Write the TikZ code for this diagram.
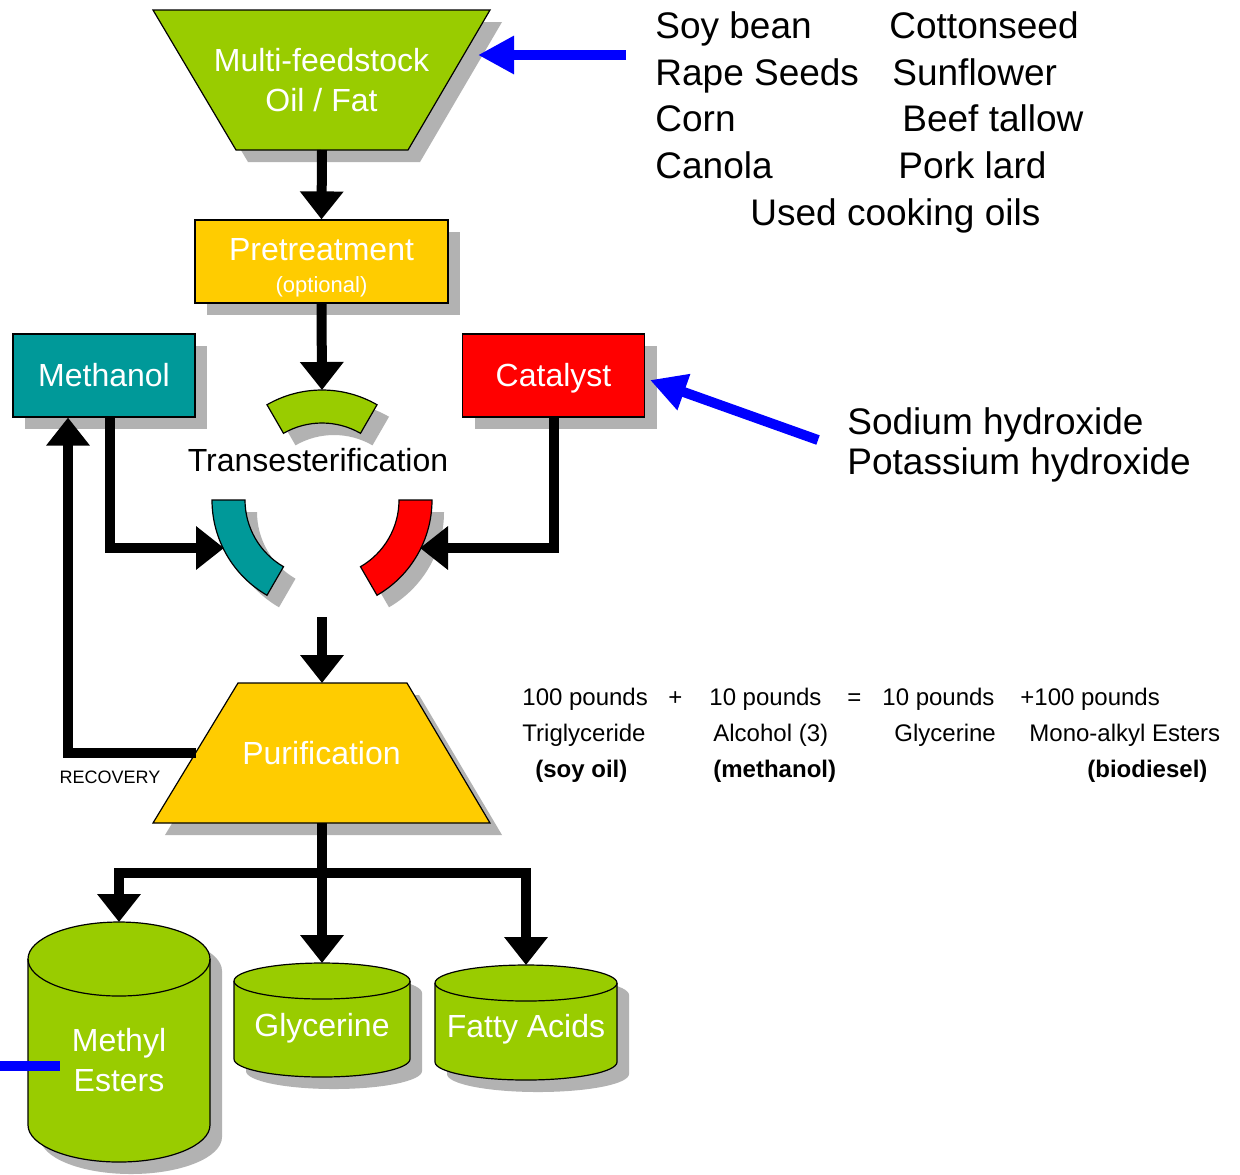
\documentclass[tikz,border=0pt]{standalone}
\usepackage{fontspec}
\setmainfont{Liberation Sans}
\usepackage{tikz}
\usetikzlibrary{arrows.meta,shadows}
\definecolor{feedgreen}{HTML}{99CC00}
\definecolor{procyellow}{HTML}{FFCC00}
\definecolor{methteal}{HTML}{009999}
\definecolor{catred}{HTML}{FF0000}
\definecolor{pointblue}{HTML}{0000FF}
\newcommand{\flowarrow}{-{Triangle[width=21pt,length=14pt]}}
\newcommand{\bluearrow}{-{Triangle[width=18pt,length=18pt]}}
\newcommand{\boxfont}{\fontsize{16}{20}\selectfont}
\newcommand{\listfont}{\fontsize{18.5}{22}\selectfont}
\newcommand{\eqfont}{\fontsize{12}{14}\selectfont}
\tikzset{
  shadowed/.style={drop shadow={shadow xshift=6pt,shadow yshift=-6pt,fill=black!30,opacity=1}},
  box/.style={shadowed,draw=black,line width=.6pt,inner sep=0pt,minimum width=91pt,minimum height=41.5pt,text=white,font=\boxfont,align=center},
  hopper/.style={shadowed,draw=black,line width=.6pt},
  hoppertext/.style={text=white,font=\boxfont,align=center},
  pipe/.style={line width=5pt},
  bluepipe/.style={line width=5pt,draw=pointblue},
  listtext/.style={anchor=base west,font=\listfont,inner sep=0pt},
  eqtext/.style={anchor=base west,font=\eqfont,inner sep=0pt}
}
\begin{document}
\begin{tikzpicture}[x=0.5pt,y=-0.5pt]
  \fill[white] (0,0) rectangle (1240,1174);
  \useasboundingbox (0,0) rectangle (1240,1174);

  % process blocks
  \path[hopper,fill=feedgreen] (153,10) -- (490,10) -- (408,150) -- (236,150) -- cycle;
  \node[hoppertext] (feed) at (321.5,80) {Multi-feedstock\\Oil / Fat};
  \coordinate (feed-bot) at (322,150);
  \node[box,fill=procyellow,minimum width=126.5pt] (pre) at (321.5,261.5)
    {\rule{0pt}{17pt}Pretreatment\\[-4pt]{\fontsize{11}{13}\selectfont (optional)}};
  \node[box,fill=methteal] (meth) at (104,375.5) {Methanol};
  \node[box,fill=catred,text depth=1pt] (cat) at (553.5,375.5) {Catalyst};
  \path[hopper,fill=procyellow] (238,683) -- (407,683) -- (490,823) -- (153,823) -- cycle;
  \node[hoppertext] (pur) at (321.5,753) {Purification};
  \coordinate (pur-top) at (322,683);
  \coordinate (pur-bot) at (322,823);
  \coordinate (pur-left) at (196,753);

  % transesterification ring
  \coordinate (ring) at (322,500);
  \foreach \col/\a/\b in {feedgreen/60/120, methteal/180/240, catred/300/360}
    \path[shadowed,fill=\col,draw=black,line width=.6pt]
      ([shift={(\a:55pt)}]ring) arc[start angle=\a,end angle=\b,radius=55pt]
      -- ([shift={(\b:38.5pt)}]ring) arc[start angle=\b,end angle=\a,radius=38.5pt] -- cycle;
  \node[font=\boxfont] (trans) at (318,460) {Transesterification};
  \coordinate (greentop) at (322,390);
  \coordinate (tealin) at (224,548);
  \coordinate (redin) at (420,548);
  \coordinate (ringout) at (322,617);

  % storage tanks
  \foreach \nm/\cx/\yt/\yb/\rx/\ry/\ty/\txt in
    {est/119/959/1125/45.5pt/18.5pt/1060/{Methyl\\Esters},
     gly/322/981/1059/44pt/9pt/1028/Glycerine,
     fat/526/983/1062/45.5pt/9pt/1029/Fatty Acids}{
    \path[shadowed,fill=feedgreen,draw=black,line width=.6pt]
      ([xshift=-\rx]\cx,\yt) arc[start angle=180,end angle=0,x radius=\rx,y radius=\ry]
      -- ([xshift=\rx]\cx,\yb) arc[start angle=0,end angle=-180,x radius=\rx,y radius=\ry] -- cycle;
    \draw[line width=.6pt] ([xshift=-\rx]\cx,\yt) arc[start angle=180,end angle=360,x radius=\rx,y radius=\ry];
    \coordinate (\nm-top) at ([yshift=\ry]\cx,\yt);
    \node[hoppertext] (\nm) at (\cx,\ty) {\txt};
  }

  % flow
  \draw[pipe,\flowarrow] (feed-bot) -- (pre.north);
  \draw[pipe,\flowarrow] (pre.south) -- (greentop);
  \draw[pipe,\flowarrow] ([xshift=3pt]meth.south) |- (tealin);
  \draw[pipe,\flowarrow] (cat.south) |- (redin);
  \draw[pipe,\flowarrow] (ringout) -- (pur-top);
  \draw[pipe,\flowarrow] (pur-left) -| ([xshift=-18pt]meth.south);
  \node[font=\fontsize{9}{11}\selectfont] (recov) at (110,777) {RECOVERY};
  \coordinate (split) at (322,873);
  \draw[pipe,\flowarrow] (pur-bot) -- (gly-top);
  \draw[pipe,\flowarrow] (split) -| (est-top);
  \draw[pipe,\flowarrow] (split) -| (fat-top);

  % feedstocks
  \node[listtext] (soy) at (655,38) {Soy bean};
  \node[listtext] (rape) at (655,85) {Rape Seeds};
  \node[listtext] (corn) at (655,131) {Corn};
  \node[listtext] (canola) at (655,178) {Canola};
  \node[listtext] (cotton) at (889,38) {Cottonseed};
  \node[listtext] (sunfl) at (892,85) {Sunflower};
  \node[listtext] (beef) at (902,131) {Beef tallow};
  \node[listtext] (pork) at (898,178) {Pork lard};
  \node[listtext] (used) at (750,225) {Used cooking oils};
  \coordinate (feedtail) at (626,55);
  \coordinate (feedin) at (478,55);
  \draw[bluepipe,\bluearrow] (feedtail) -- (feedin);

  % catalysts
  \node[listtext] (sodium) at (847,434) {Sodium hydroxide};
  \node[listtext] (potass) at (847,474) {Potassium hydroxide};
  \coordinate (cattail) at (818,440);
  \coordinate (catin) at (650,380);
  \draw[bluepipe,\bluearrow] (cattail) -- (catin);

  % mass balance
  \node[eqtext] (lbs1) at (522,705) {100 pounds};
  \node[eqtext] (plus) at (668,705) {+};
  \node[eqtext] (lbs2) at (709,705) {10 pounds};
  \node[eqtext] (eq) at (847,705) {=};
  \node[eqtext] (lbs3) at (882,705) {10 pounds};
  \node[eqtext] (lbs4) at (1020,705) {+100 pounds};
  \node[eqtext] (trig) at (522,741) {Triglyceride};
  \node[eqtext] (alc) at (713,741) {Alcohol (3)};
  \node[eqtext] (glyc) at (894,741) {Glycerine};
  \node[eqtext] (mono) at (1029,741) {Mono-alkyl Esters};
  \node[eqtext,font=\eqfont\bfseries] (soyoil) at (535,777) {(soy oil)};
  \node[eqtext,font=\eqfont\bfseries] (methb) at (713,777) {(methanol)};
  \node[eqtext,font=\eqfont\bfseries] (biod) at (1087,777) {(biodiesel)};

  % cut-off pointer
  \coordinate (cut) at (0,1066);
  \coordinate (cutend) at (60,1066);
  \draw[bluepipe] (cut) -- (cutend);
\end{tikzpicture}
\end{document}
